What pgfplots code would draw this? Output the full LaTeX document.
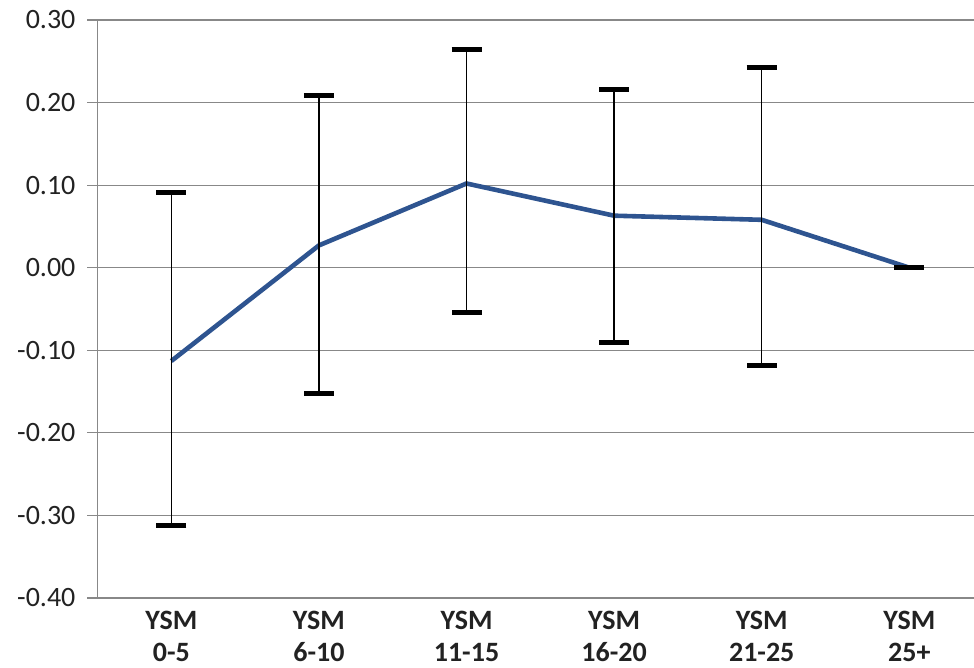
\documentclass[border=0pt]{standalone}
\usepackage{pgfplots}
\pgfplotsset{compat=1.18}
\usepackage{fontspec}
\setmainfont{Carlito}
\definecolor{lineblue}{HTML}{2E5490}
\definecolor{gridgray}{HTML}{888888}
\definecolor{txt}{HTML}{222222}
\begin{document}
\begin{tikzpicture}
\begin{axis}[
  at={(0,0)}, anchor=south west,
  scale only axis,
  width=438.25pt, height=289pt,
  xmin=-0.5, xmax=5.438,
  ymin=-0.4, ymax=0.3,
  ytick={-0.4,-0.3,-0.2,-0.1,0,0.1,0.2,0.3},
  xtick={0,1,2,3,4,5},
  xticklabels={{YSM\\0-5},{YSM\\6-10},{YSM\\11-15},{YSM\\16-20},{YSM\\21-25},{YSM\\25+}},
  xticklabel style={align=center, font=\fontsize{14}{16}\selectfont\bfseries, text=txt, anchor=north, inner sep=1pt, yshift=-0.5pt},
  yticklabel style={font=\fontsize{14}{16}\selectfont, text=txt, anchor=east, xshift=-2.5pt},
  /pgf/number format/.cd, fixed, fixed zerofill, precision=2, assume math mode=true,
  /pgfplots/.cd,
  axis lines*=left,
  axis line style={gridgray, line width=0.6pt, -},
  ymajorgrids,
  grid style={gridgray, line width=0.6pt},
  major y tick style={gridgray, line width=0.6pt},
  major x tick style={draw=none},
  tick align=outside,
  major tick length=5pt,
  clip=false,
]
\addplot[lineblue, line width=2.3pt, no markers,
  error bars/.cd, y dir=both, y explicit,
  error bar style={black, line width=0.7pt},
  error mark options={rotate=90, mark size=7.5pt, line width=2.5pt, black}]
  table[x=x, y=y, y error plus=ep, y error minus=em] {
  x y ep em
  0 -0.113 0.204 0.199
  1 0.027 0.182 0.179
  2 0.102 0.162 0.156
  3 0.063 0.153 0.153
  4 0.058 0.184 0.177
  5 0.000 0.000 0.000
  };
\end{axis}
\pgfresetboundingbox
\useasboundingbox (-48.75pt,-35pt) rectangle (438.25pt,299pt);
\end{tikzpicture}
\end{document}
